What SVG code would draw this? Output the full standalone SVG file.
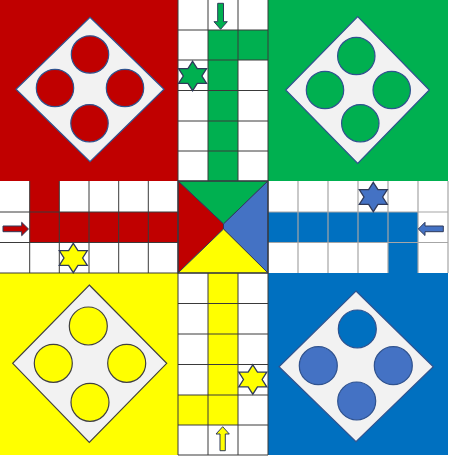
<svg xmlns="http://www.w3.org/2000/svg" width="450" height="457" viewBox="0 0 450 457">
<style>
.red{fill:#C00000}.green{fill:#00B050}.yellow{fill:#FFFF00}.blue{fill:#0070C0}.lblue{fill:#4472C4}
.dia{fill:#F2F2F2;stroke:#2F528F;stroke-width:1.2}
.ydia{fill:#F2F2F2;stroke:#404040;stroke-width:1.2}
.pc{stroke:#2F528F;stroke-width:1.2}
.ypc{stroke:#404040;stroke-width:1.2}
.grid{fill:none;stroke:#3A3A3A;stroke-width:1}
.lgrid{fill:none;stroke:#A6A6A6;stroke-width:1.2}
.tri{stroke:#2F3A5A;stroke-width:1}
.arr{stroke:#2F3A5A;stroke-width:1}
.star{stroke:#2F3A5A;stroke-width:1.3}
</style>
<defs>
<path id="star" d="M0,-14.7 L4.67,-7.35 L14,-7.35 L9.33,0 L14,7.35 L4.67,7.35 L0,14.7 L-4.67,7.35 L-14,7.35 L-9.33,0 L-14,-7.35 L-4.67,-7.35 Z"/>
</defs>
<rect x="0" y="0" width="450" height="457" fill="#FFFFFF"/>

<g id="red-home">
<rect class="red" x="0" y="0" width="178" height="181"/>
<polygon class="dia" points="90,17.3 164,89.3 90,161.7 16,89.3"/>
<circle class="red pc" cx="90" cy="54.5" r="18.7"/>
<circle class="red pc" cx="55" cy="88" r="18.7"/>
<circle class="red pc" cx="125" cy="88" r="18.7"/>
<circle class="red pc" cx="89.5" cy="123.3" r="18.7"/>
</g>

<g id="green-home">
<rect class="green" x="268" y="0" width="180" height="181"/>
<polygon class="dia" points="357.7,16.7 429.3,90 357.7,163.3 285.7,90"/>
<circle class="green pc" cx="356.3" cy="56" r="18.7"/>
<circle class="green pc" cx="325" cy="90" r="18.7"/>
<circle class="green pc" cx="391.7" cy="90" r="18.7"/>
<circle class="green pc" cx="360.3" cy="123.3" r="18.7"/>
</g>

<g id="yellow-home">
<rect class="yellow" x="0" y="273" width="178" height="182"/>
<polygon class="ydia" points="89.3,285 166.7,363.3 89.3,442.3 12.7,363.3"/>
<circle class="yellow ypc" cx="88.3" cy="326" r="19"/>
<circle class="yellow ypc" cx="53.3" cy="363.3" r="19"/>
<circle class="yellow ypc" cx="126.7" cy="363.3" r="19"/>
<circle class="yellow ypc" cx="90" cy="402.3" r="19"/>
</g>

<g id="blue-home">
<rect class="blue" x="268" y="273" width="180" height="182"/>
<polygon class="dia" points="356,291 433.3,366.7 356,441.7 279,366.7"/>
<circle class="blue pc" cx="357.3" cy="329" r="19"/>
<circle class="lblue pc" cx="318.3" cy="365.7" r="19"/>
<circle class="lblue pc" cx="393.3" cy="365.7" r="19"/>
<circle class="lblue pc" cx="356.7" cy="401" r="19"/>
</g>

<g id="top-arm">
<rect class="green" x="208" y="30" width="30" height="151"/>
<rect class="green" x="238" y="30" width="30" height="30"/>
<path class="grid" d="M178,0V181M208,0V181M238,0V181M268,0V181M178,30H268M178,60H268M178,90.5H268M178,121H268M178,151H268"/>
</g>

<g id="left-arm">
<rect class="red" x="29.7" y="212" width="148.3" height="30.5"/>
<rect class="red" x="29.7" y="181" width="29.6" height="31"/>
<path class="grid" d="M0,212H178M0,242.5H178M0,273H178M29.7,181V273M59.3,181V273M89,181V273M118.7,181V273M148.3,181V273"/>
</g>

<g id="right-arm">
<rect class="blue" x="268" y="212" width="150" height="30.5"/>
<rect class="blue" x="388" y="242.5" width="30" height="30.5"/>
<path class="lgrid" d="M268,212H448M268,242.5H448M298,181V273M328,181V273M358,181V273M388,181V273M418,181V273M448,181V273"/>
</g>

<g id="bottom-arm">
<rect class="yellow" x="208" y="273" width="30" height="152"/>
<rect class="yellow" x="178" y="395" width="30" height="30"/>
<path class="grid" d="M178,273V455M208,273V455M238,273V455M268,273V455M178,303.5H268M178,334H268M178,364.5H268M178,395H268M178,425H268M178,455H268"/>
</g>

<g id="center">
<polygon class="green tri" points="178,181 268,181 223.5,224"/>
<polygon class="red tri" points="178,181 223.5,224 223.5,229 178,273"/>
<polygon class="lblue tri" points="268,181 223.5,224 223.5,229 268,273"/>
<polygon class="yellow tri" points="178,273 223.5,229 268,273"/>
<rect x="178" y="181" width="90" height="92" fill="none" stroke="#3A3A3A" stroke-width="1.2"/>
</g>

<g id="stars">
<use href="#star" class="green star" x="192.6" y="76"/>
<use href="#star" class="yellow star" x="73.3" y="258"/>
<use href="#star" class="lblue star" x="373.3" y="197"/>
<use href="#star" class="yellow star" x="252.8" y="379.5"/>
</g>

<g id="arrows">
<polygon class="red arr" points="3,226 21.7,226 21.7,222.3 28.5,229 21.7,235.7 21.7,231.7 3,231.7"/>
<polygon class="lblue arr" points="443.3,226 425,226 425,222.3 418.3,229 425,235.5 425,231.7 443.3,231.7"/>
<polygon class="green arr" points="217.7,3.3 223.5,3.3 223.5,21.7 227.3,21.7 220.6,29.3 214,21.7 217.7,21.7"/>
<polygon class="yellow arr" points="220,450.7 225.3,450.7 225.3,434 229.3,434 222.7,426.7 216,434 220,434"/>
</g>
</svg>
